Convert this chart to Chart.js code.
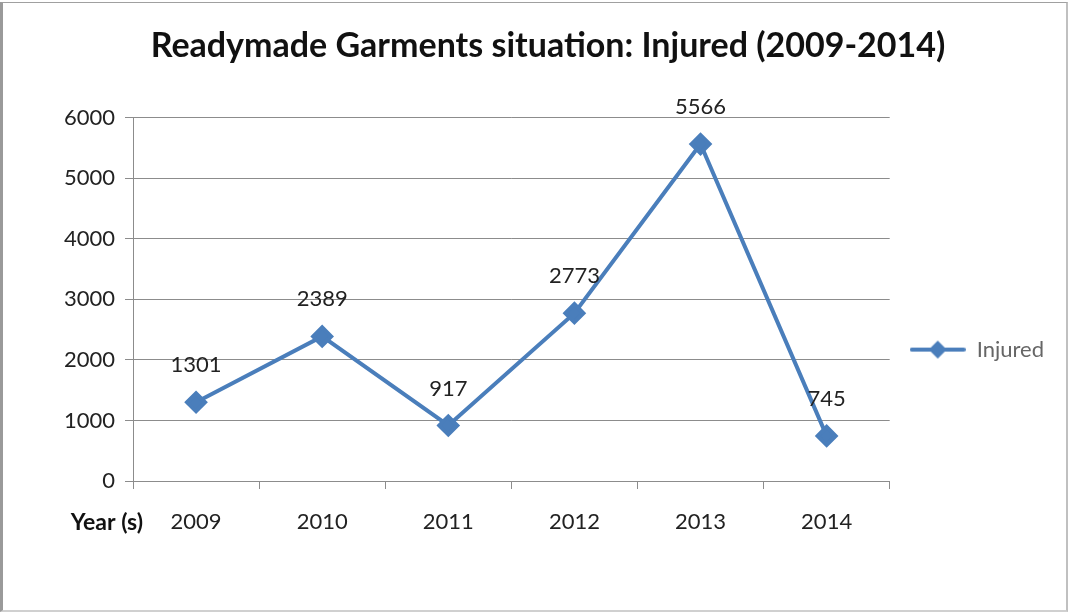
<!DOCTYPE html>
<html>
<head>
<meta charset="utf-8">
<script src="https://cdn.jsdelivr.net/npm/chart.js@4/dist/chart.umd.min.js"></script>
<style>
  html, body { margin: 0; padding: 0; background: #fff; }
  #wrap { position: relative; width: 1068px; height: 613px; }
  #frame { position: absolute; left: 0; top: 2px; width: 1063px; height: 607px;
           border-left: 3px solid #9a9a9a; border-top: 1px solid #a0a0a0;
           border-right: 2px solid #c0c0c0; border-bottom: 2px solid #d0d0d0; pointer-events: none; }
  canvas { position: absolute; left: 0; top: 0; }
</style>
</head>
<body>
<div id="wrap">
  <canvas id="c" width="1068" height="613"></canvas>
  <div id="frame"></div>
</div>
<script>
const titleText = "Readymade Garments situation: Injured (2009-2014)";
const categories = ["2009", "2010", "2011", "2012", "2013", "2014"];
const injured = [1301, 2389, 917, 2773, 5566, 745];
const seriesName = "Injured";
const xAxisTitle = "Year (s)";
const yTicks = [0, 1000, 2000, 3000, 4000, 5000, 6000];

const FONT = "Lato, 'Open Sans', 'Liberation Sans', sans-serif";
const BLUE = "#4A7EBB";
const GRID = "#8c8c8c";

const dataLabels = {
  id: 'dataLabels',
  afterDatasetsDraw(chart) {
    const ctx = chart.ctx;
    const meta = chart.getDatasetMeta(0);
    ctx.save();
    ctx.font = "22px " + FONT;
    ctx.fillStyle = "#222";
    ctx.textAlign = "center";
    ctx.textBaseline = "middle";
    meta.data.forEach((pt, i) => {
      ctx.fillText(String(chart.data.datasets[0].data[i]), pt.x, pt.y - 37);
    });
    const xs = chart.scales.x;
    ctx.font = "bold 23px " + FONT;
    ctx.fillStyle = "#111";
    ctx.textAlign = "right";
    ctx.fillText(xAxisTitle, xs.left + 10, 523);
    ctx.restore();
  }
};

function legendIcon() {
  const c = document.createElement('canvas');
  c.width = 56; c.height = 20;
  const g = c.getContext('2d');
  g.strokeStyle = BLUE; g.lineWidth = 4; g.lineCap = "round";
  g.beginPath(); g.moveTo(2, 10); g.lineTo(54, 10); g.stroke();
  g.fillStyle = BLUE;
  g.beginPath(); g.moveTo(28, 1); g.lineTo(37, 10); g.lineTo(28, 19); g.lineTo(19, 10); g.closePath(); g.fill();
  return c;
}
const icon = legendIcon();

new Chart(document.getElementById('c'), {
  type: 'line',
  data: {
    labels: categories,
    datasets: [{
      label: seriesName,
      data: injured,
      borderColor: BLUE,
      backgroundColor: BLUE,
      borderWidth: 4,
      pointStyle: 'rectRot',
      pointRadius: 9,
      pointHoverRadius: 9,
      tension: 0,
      clip: false
    }]
  },
  plugins: [dataLabels],
  options: {
    responsive: false,
    animation: false,
    events: [],
    layout: { padding: { left: 42, right: 14, top: 0, bottom: 0 } },
    plugins: {
      title: {
        display: true,
        text: titleText,
        font: { family: FONT, size: 34, weight: 'bold' },
        color: "#111",
        padding: { top: 26, bottom: 51 }
      },
      legend: {
        position: 'right',
        title: { display: true, text: ' ', font: { size: 1 }, padding: { top: 85, bottom: 0 } },
        labels: {
          usePointStyle: true,
          pointStyleWidth: 56,
          font: { family: FONT, size: 22 },
          color: "#222",
          padding: 20,
          generateLabels(chart) {
            return [{ text: seriesName, pointStyle: icon, fillStyle: BLUE, strokeStyle: BLUE, lineWidth: 0, datasetIndex: 0 }];
          }
        }
      },
      tooltip: { enabled: false }
    },
    scales: {
      x: {
        offset: true,
        grid: { display: true, drawOnChartArea: false, drawTicks: true, tickLength: 8, color: GRID, offset: true },
        border: { display: true, color: GRID, width: 1 },
        ticks: { font: { family: FONT, size: 22 }, color: "#222", padding: 20, maxRotation: 0 },
        afterFit(s) { s.height = 132; }
      },
      y: {
        min: 0, max: 6000,
        afterBuildTicks(s) { s.ticks = yTicks.map(v => ({ value: v })); },
        grid: { color: GRID, tickLength: 8, lineWidth: 1 },
        border: { display: true, color: GRID, width: 1 },
        ticks: { font: { family: FONT, size: 22 }, color: "#222", padding: 10, callback: v => String(v) },
        afterFit(s) { s.width = 91; }
      }
    }
  }
});
</script>
</body>
</html>
